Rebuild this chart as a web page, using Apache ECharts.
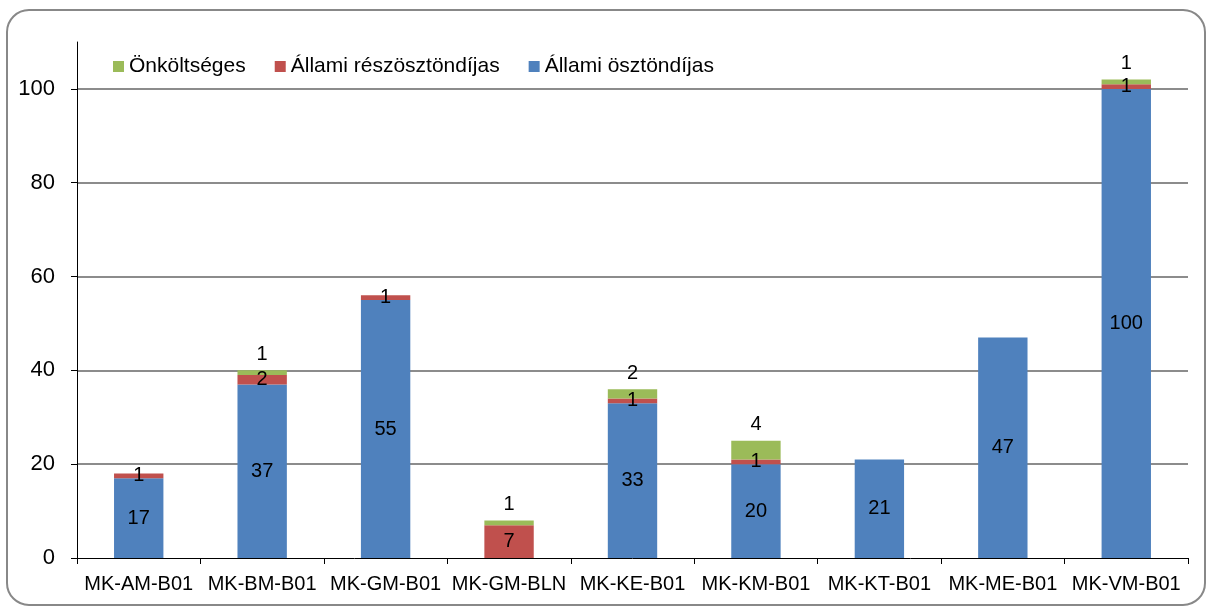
<!DOCTYPE html>
<html>
<head>
<meta charset="utf-8">
<script src="https://cdn.jsdelivr.net/npm/echarts@6/dist/echarts.min.js"></script>
<style>
html,body{margin:0;padding:0;background:#fff;}
#chart{width:1211px;height:608px;}
</style>
</head>
<body>
<div id="chart"></div>
<script>
const categories = ['MK-AM-B01','MK-BM-B01','MK-GM-B01','MK-GM-BLN','MK-KE-B01','MK-KM-B01','MK-KT-B01','MK-ME-B01','MK-VM-B01'];
const allamiOsztondijas = [17, 37, 55, 0, 33, 20, 21, 47, 100];
const allamiReszosztondijas = [1, 2, 1, 7, 1, 1, 0, 0, 1];
const onkoltseges = [0, 1, 0, 1, 2, 4, 0, 0, 1];
const yTicks = [0, 20, 40, 60, 80, 100];

const FONT = '"Liberation Sans", Arial, sans-serif';
const hideZero = p => (p.value ? String(p.value) : '');

const chart = echarts.init(document.getElementById('chart'), null, {renderer: 'canvas'});
chart.setOption({
  animation: false,
  backgroundColor: '#fff',
  textStyle: {fontFamily: FONT},
  graphic: [{
    type: 'rect',
    shape: {x: 7, y: 10, width: 1198, height: 595, r: 22},
    style: {fill: 'none', stroke: '#888', lineWidth: 2},
    silent: true, z: -1
  }],
  legend: {
    left: 113, top: 56, padding: 0,
    itemWidth: 11, itemHeight: 11, itemGap: 29,
    icon: 'rect',
    data: ['Önköltséges', 'Állami részösztöndíjas', 'Állami ösztöndíjas'],
    textStyle: {fontFamily: FONT, fontSize: 21, color: '#000'}
  },
  grid: {left: 77, right: 23, top: 42, bottom: 50, containLabel: false},
  xAxis: {
    type: 'category',
    data: categories,
    axisLine: {lineStyle: {color: '#000', width: 1}},
    axisTick: {show: true, length: 6, alignWithLabel: false, lineStyle: {color: '#000'}},
    axisLabel: {fontFamily: FONT, fontSize: 20, color: '#000', margin: 16, interval: 0}
  },
  yAxis: {
    type: 'value',
    min: yTicks[0], max: 110, interval: 20,
    axisLine: {show: true, lineStyle: {color: '#000', width: 1}},
    axisTick: {show: true, length: 6, lineStyle: {color: '#000'}},
    axisLabel: {fontFamily: FONT, fontSize: 22, color: '#000', margin: 22, showMaxLabel: false,
      formatter: v => (yTicks.indexOf(v) >= 0 ? String(v) : '')},
    splitLine: {show: true, showMinLine: false, showMaxLine: false, lineStyle: {color: '#8c8c8c', width: 2}}
  },
  series: [
    {
      name: 'Állami ösztöndíjas', type: 'bar', stack: 'total',
      data: allamiOsztondijas, barWidth: '40%',
      itemStyle: {color: '#4F81BD'},
      label: {show: true, position: 'inside', formatter: hideZero, fontFamily: FONT, fontSize: 20, color: '#000'}
    },
    {
      name: 'Állami részösztöndíjas', type: 'bar', stack: 'total',
      data: allamiReszosztondijas, barWidth: '40%',
      itemStyle: {color: '#C0504D'},
      label: {show: true, position: 'inside', formatter: hideZero, fontFamily: FONT, fontSize: 20, color: '#000'}
    },
    {
      name: 'Önköltséges', type: 'bar', stack: 'total',
      data: onkoltseges, barWidth: '40%',
      itemStyle: {color: '#9BBB59'},
      label: {show: true, position: 'top', distance: 6, formatter: hideZero, fontFamily: FONT, fontSize: 20, color: '#000'}
    }
  ]
});
</script>
</body>
</html>
